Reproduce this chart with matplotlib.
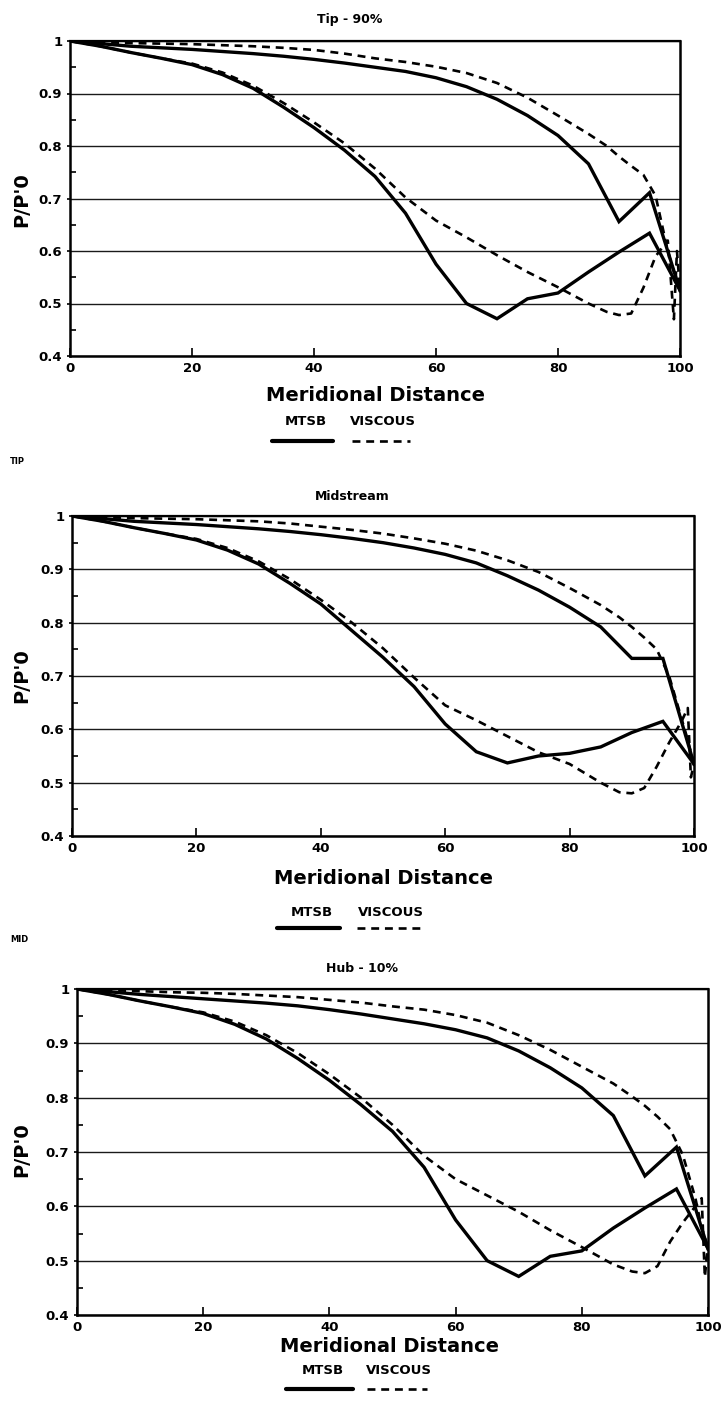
import matplotlib
matplotlib.use("Agg")
import matplotlib.pyplot as plt
from matplotlib.lines import Line2D

plt.rcParams['font.family'] = ['DejaVu Sans']
plt.rcParams['font.weight'] = 'bold'

# ---------------- data ----------------
x_mtsb = [0, 5, 10, 15, 20, 25, 30, 35, 40, 45, 50, 55, 60, 65, 70, 75, 80, 85, 90, 95, 100]

x_visc_ps = [0, 5, 10, 15, 20, 25, 30, 35, 40, 45, 50, 55, 60, 65, 70, 75, 80, 85, 88, 90, 92, 94, 96, 98, 99, 100]
x_visc_ss = [0, 5, 10, 15, 20, 25, 30, 35, 40, 45, 50, 55, 60, 65, 70, 75, 80, 85, 88, 90, 92, 94, 96, 98, 99, 99.5, 100]

# Tip - 90%
tip_mtsb_ps = [1.0, 0.995, 0.99, 0.987, 0.984, 0.98, 0.976, 0.971, 0.965, 0.958, 0.95, 0.942, 0.93, 0.913,
               0.889, 0.858, 0.82, 0.766, 0.656, 0.711, 0.525]
tip_mtsb_ss = [1.0, 0.99, 0.978, 0.967, 0.955, 0.936, 0.91, 0.874, 0.835, 0.792, 0.742, 0.672, 0.575, 0.5,
               0.471, 0.509, 0.52, 0.56, 0.598, 0.634, 0.525]
tip_visc_ps = [1.0, 0.998, 0.996, 0.995, 0.994, 0.992, 0.99, 0.987, 0.983, 0.976, 0.967, 0.96, 0.951, 0.939,
               0.92, 0.892, 0.858, 0.823, 0.80, 0.78, 0.762, 0.745, 0.705, 0.60, 0.56, 0.53]
tip_visc_ss = [1.0, 0.99, 0.978, 0.967, 0.957, 0.94, 0.915, 0.882, 0.845, 0.805, 0.757, 0.702, 0.658, 0.626,
               0.592, 0.56, 0.531, 0.50, 0.484, 0.478, 0.481, 0.53, 0.59, 0.62, 0.47, 0.60, 0.525]

# Midstream
mid_mtsb_ps = [1.0, 0.995, 0.99, 0.987, 0.984, 0.98, 0.976, 0.971, 0.965, 0.958, 0.95, 0.94, 0.928, 0.912,
               0.888, 0.861, 0.829, 0.792, 0.733, 0.733, 0.535]
mid_mtsb_ss = [1.0, 0.99, 0.978, 0.967, 0.955, 0.936, 0.91, 0.874, 0.835, 0.785, 0.735, 0.68, 0.61, 0.558,
               0.537, 0.55, 0.555, 0.567, 0.594, 0.615, 0.535]
mid_visc_ps = [1.0, 0.998, 0.996, 0.995, 0.994, 0.992, 0.99, 0.986, 0.98, 0.974, 0.967, 0.958, 0.948, 0.935,
               0.917, 0.895, 0.865, 0.833, 0.81, 0.792, 0.772, 0.75, 0.70, 0.62, 0.58, 0.535]
mid_visc_ss = [1.0, 0.99, 0.978, 0.967, 0.957, 0.94, 0.915, 0.882, 0.843, 0.80, 0.752, 0.697, 0.645, 0.617,
               0.587, 0.557, 0.535, 0.50, 0.482, 0.48, 0.49, 0.53, 0.575, 0.615, 0.64, 0.51, 0.535]

# Hub - 10%
hub_mtsb_ps = [1.0, 0.995, 0.99, 0.986, 0.982, 0.978, 0.974, 0.969, 0.962, 0.954, 0.945, 0.936, 0.925, 0.91,
               0.886, 0.855, 0.818, 0.767, 0.656, 0.709, 0.522]
hub_mtsb_ss = [1.0, 0.99, 0.978, 0.967, 0.955, 0.935, 0.908, 0.872, 0.832, 0.787, 0.738, 0.672, 0.575, 0.5,
               0.471, 0.508, 0.518, 0.56, 0.597, 0.632, 0.522]
hub_visc_ps = [1.0, 0.998, 0.996, 0.994, 0.993, 0.991, 0.988, 0.985, 0.98, 0.975, 0.968, 0.962, 0.952, 0.938,
               0.915, 0.888, 0.857, 0.826, 0.802, 0.785, 0.765, 0.742, 0.695, 0.615, 0.56, 0.525]
hub_visc_ss = [1.0, 0.99, 0.978, 0.967, 0.957, 0.94, 0.915, 0.882, 0.843, 0.80, 0.75, 0.693, 0.65, 0.62,
               0.59, 0.556, 0.525, 0.493, 0.48, 0.477, 0.49, 0.535, 0.57, 0.60, 0.615, 0.47, 0.53]

titles = ["Tip - 90%", "Midstream", "Hub - 10%"]
side_labels = ["TIP", "MID", None]
series_names = ["MTSB", "VISCOUS"]
x_label = "Meridional Distance"
y_label = "P/P'0"
x_ticks = [0, 20, 40, 60, 80, 100]
x_tick_labels = ["0", "20", "40", "60", "80", "100"]
y_ticks = [0.4, 0.5, 0.6, 0.7, 0.8, 0.9, 1.0]
y_tick_labels = ["0.4", "0.5", "0.6", "0.7", "0.8", "0.9", "1"]
y_minor = [0.45, 0.55, 0.65, 0.75, 0.85, 0.95]

panel_data = [
    (tip_mtsb_ps, tip_mtsb_ss, tip_visc_ps, tip_visc_ss),
    (mid_mtsb_ps, mid_mtsb_ss, mid_visc_ps, mid_visc_ss),
    (hub_mtsb_ps, hub_mtsb_ss, hub_visc_ps, hub_visc_ss),
]

# ---------------- layout (pixels) ----------------
W, H = 724, 1412
fig = plt.figure(figsize=(W / 100, H / 100), dpi=100)
fig.patch.set_facecolor("white")

def fx(px):
    return px / W

def fy(py):
    return 1 - py / H

layout = [
    dict(ax=(70, 41, 680, 356), title=(350, 19), xl=(375, 396), yl=(22, 200), lt=421, ll=441,
         m=(272, 333), v=(352, 410), side=462),
    dict(ax=(72, 516, 694, 836), title=(352, 497), xl=(383, 879), yl=(22, 676), lt=912, ll=928,
         m=(277, 340), v=(357, 420), side=940),
    dict(ax=(77, 989, 708, 1315), title=(362, 969), xl=(390, 1346), yl=(22, 1150), lt=1371, ll=1389,
         m=(286, 353), v=(367, 427), side=None),
]

dash_style = (0, (3.0, 2.2))

for i, L in enumerate(layout):
    l, t, r, b = L["ax"]
    ax = fig.add_axes([fx(l), fy(b), (r - l) / W, (b - t) / H])
    mps, mss, vps, vss = panel_data[i]

    ax.plot(x_mtsb, mps, color="black", lw=2.4, solid_joinstyle="miter", zorder=4)
    ax.plot(x_mtsb, mss, color="black", lw=2.4, solid_joinstyle="miter", zorder=4)
    ax.plot(x_visc_ps, vps, color="black", lw=1.9, linestyle=dash_style, zorder=3)
    ax.plot(x_visc_ss, vss, color="black", lw=1.9, linestyle=dash_style, zorder=3)

    ax.set_xlim(0, 100)
    ax.set_ylim(0.4, 1.0)
    ax.set_xticks(x_ticks)
    ax.set_xticklabels(x_tick_labels)
    ax.set_yticks(y_ticks)
    ax.set_yticklabels(y_tick_labels)
    ax.set_yticks(y_minor, minor=True)

    ax.grid(axis="y", which="major", color="#1a1a1a", lw=1.0)
    ax.set_axisbelow(True)
    for s in ["left", "bottom", "right"]:
        ax.spines[s].set_linewidth(1.8)
    ax.spines["top"].set_linewidth(1.6)

    ax.tick_params(axis="x", which="major", direction="in", length=6, width=1.2,
                   labelsize=9.5, pad=4)
    ax.tick_params(axis="y", which="major", direction="out", length=2.5, width=1.2,
                   labelsize=9.5, pad=3)
    ax.tick_params(axis="y", which="minor", direction="in", length=4, width=1.2)
    for lab in ax.get_xticklabels() + ax.get_yticklabels():
        lab.set_fontweight("bold")

    fig.text(fx(L["title"][0]), fy(L["title"][1]), titles[i], ha="center", va="center",
             fontsize=9, fontweight="bold")
    fig.text(fx(L["xl"][0]), fy(L["xl"][1]), x_label, ha="center", va="center",
             fontsize=14, fontweight="bold")
    fig.text(fx(L["yl"][0]), fy(L["yl"][1]), y_label, ha="center", va="center",
             rotation=90, fontsize=14, fontweight="bold")

    # legend
    mx0, mx1 = L["m"]
    vx0, vx1 = L["v"]
    fig.text(fx((mx0 + mx1) / 2 + 3), fy(L["lt"]), series_names[0], ha="center", va="center",
             fontsize=9.5, fontweight="bold")
    fig.text(fx((vx0 + vx1) / 2 + 2), fy(L["lt"]), series_names[1], ha="center", va="center",
             fontsize=9.5, fontweight="bold")
    fig.add_artist(Line2D([fx(mx0), fx(mx1)], [fy(L["ll"]), fy(L["ll"])], color="black",
                          lw=3.0, solid_capstyle="round", transform=fig.transFigure))
    fig.add_artist(Line2D([fx(vx0), fx(vx1)], [fy(L["ll"]), fy(L["ll"])], color="black",
                          lw=1.9, linestyle=dash_style, transform=fig.transFigure))
    if side_labels[i]:
        fig.text(fx(10), fy(L["side"]), side_labels[i], ha="left", va="center",
                 fontsize=6, fontweight="bold")

fig.savefig("out.png", dpi=100, facecolor="white")
